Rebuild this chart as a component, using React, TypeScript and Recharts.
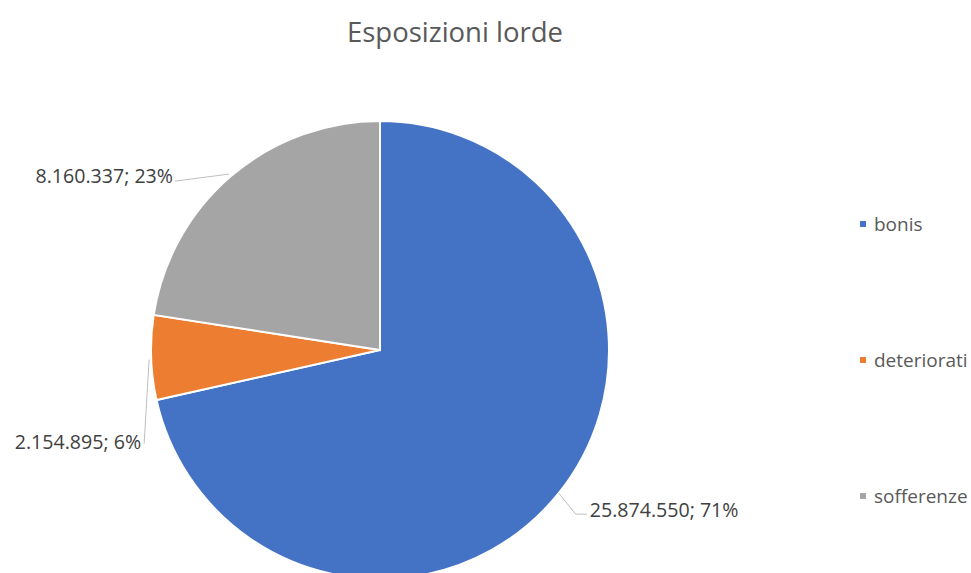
import { PieChart, Pie, Cell, Legend } from "recharts";

const categories = ["bonis", "deteriorati", "sofferenze"];
const values = [25874550, 2154895, 8160337];
const colors = ["#4472C4", "#ED7D31", "#A5A5A5"];

const data = categories.map((name, i) => ({ name, value: values[i] }));
const total = values.reduce((a, b) => a + b, 0);

const FONT = "'Open Sans', sans-serif";
const fmt = (v: number) => v.toLocaleString("de-DE");

function renderLabel(p: any) {
  const RAD = Math.PI / 180;
  const sx = p.cx + p.outerRadius * Math.cos(-p.midAngle * RAD);
  const sy = p.cy + p.outerRadius * Math.sin(-p.midAngle * RAD);
  const pct = Math.round((p.value / total) * 100);
  const text = `${fmt(p.value)}; ${pct}%`;
  let pts: number[][];
  let tx: number, ty: number, anchor: "start" | "end";
  if (p.index === 0) {
    pts = [[sx, sy], [sx + 17, sy + 21], [sx + 28, sy + 21]];
    tx = sx + 31; ty = sy + 16; anchor = "start";
  } else if (p.index === 1) {
    pts = [[sx - 2, sy + 2], [sx - 7, sy + 86]];
    tx = sx - 10; ty = sy + 84; anchor = "end";
  } else {
    pts = [[sx - 2, sy - 2], [sx - 56, sy + 5]];
    tx = sx - 58; ty = sy - 1; anchor = "end";
  }
  return (
    <g>
      <polyline points={pts.map((q) => q.join(",")).join(" ")} fill="none" stroke="#BFBFBF" strokeWidth={1} />
      <text x={tx} y={ty} textAnchor={anchor} dominantBaseline="central"
        fill="#404040" style={{ fontFamily: FONT, fontSize: 19.6 }}>
        {text}
      </text>
    </g>
  );
}

function LegendContent() {
  return (
    <div style={{ fontFamily: FONT, fontSize: 19, color: "#595959" }}>
      {data.map((d, i) => (
        <div key={d.name} style={{ height: 136, display: "flex", alignItems: "flex-start" }}>
          <div style={{ display: "flex", alignItems: "center", height: 26 }}>
            <span style={{ width: 6, height: 6, background: colors[i], marginRight: 8, display: "inline-block" }} />
            <span>{d.name}</span>
          </div>
        </div>
      ))}
    </div>
  );
}

export default function App() {
  return (
    <div style={{ position: "absolute", left: 0, top: 0, width: 971, height: 573, background: "#fff", overflow: "hidden" }}>
      <div style={{ position: "absolute", top: 13, left: 0, width: 910, textAlign: "center",
        fontFamily: FONT, fontSize: 27.5, color: "#595959" }}>
        Esposizioni lorde
      </div>
      <PieChart width={971} height={573} margin={{ top: 0, right: 0, bottom: 0, left: 0 }}>
        <Pie data={data} dataKey="value" nameKey="name" cx={380} cy={350} outerRadius={229}
          startAngle={90} endAngle={-270} stroke="#fff" strokeWidth={2}
          label={renderLabel} labelLine={false} isAnimationActive={false}>
          {data.map((d, i) => <Cell key={d.name} fill={colors[i]} />)}
        </Pie>
        <Legend content={<LegendContent />} layout="vertical"
          wrapperStyle={{ position: "absolute", left: 860, top: 211, width: 111 }} />
      </PieChart>
    </div>
  );
}
